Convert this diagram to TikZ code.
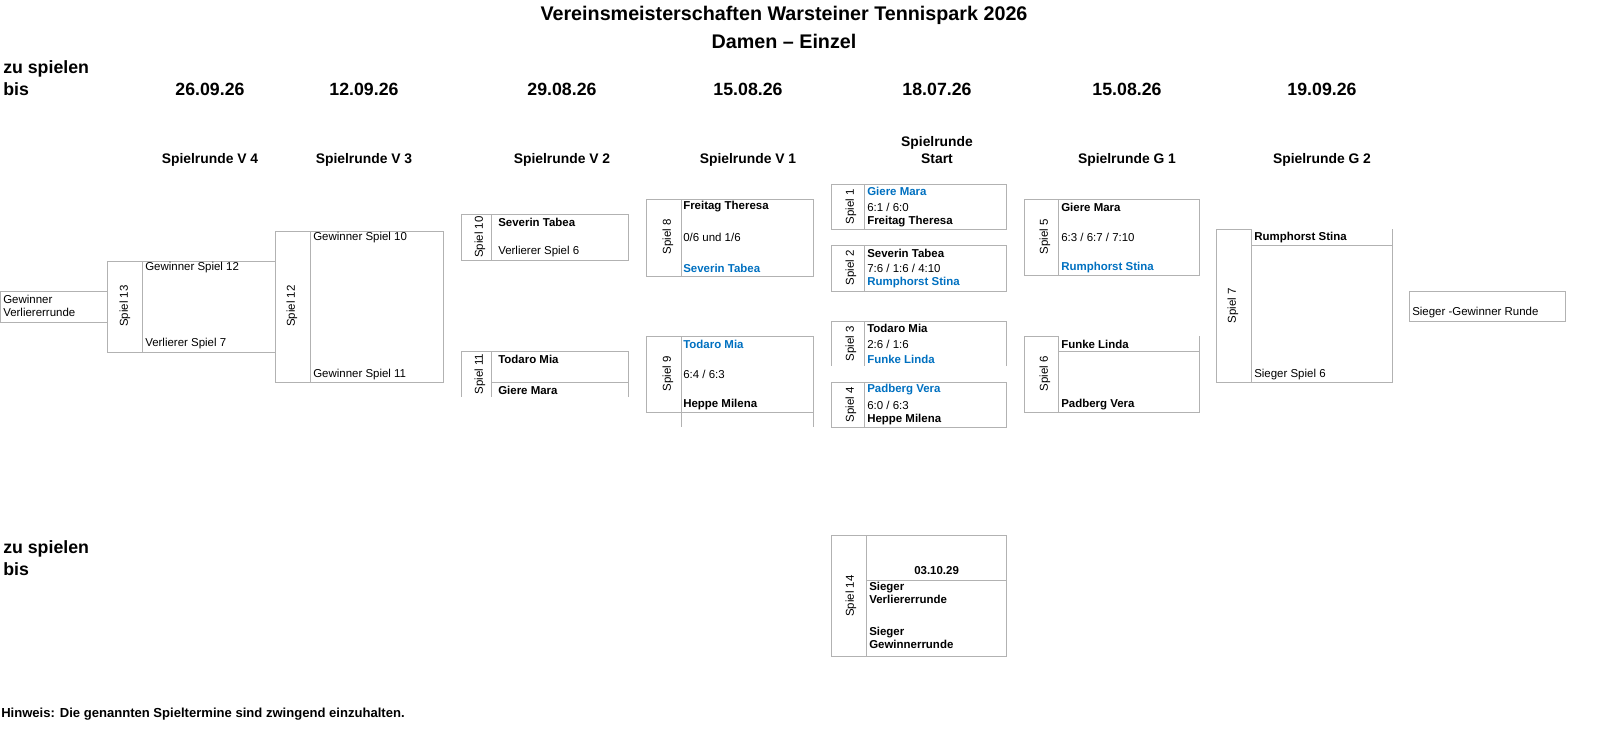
\documentclass[tikz,border=0pt]{standalone}
\usepackage{fontspec}
\setmainfont{Liberation Sans}
\usepackage{xcolor}
\definecolor{winblue}{RGB}{0,112,192}
\usetikzlibrary{positioning}
\tikzset{
  box/.style={draw=black!30, line width=0.6pt},
  txt/.style={anchor=west, inner sep=0pt, font=\fontsize{8.6}{10}\selectfont},
  btxt/.style={txt, font=\fontsize{8.6}{10}\selectfont\bfseries},
  wtxt/.style={btxt, text=winblue},
  game/.style={rotate=90, inner sep=0pt, font=\fontsize{8.6}{10}\selectfont},
  head/.style={font=\fontsize{10.4}{12.5}\selectfont\bfseries, align=center},
  date/.style={font=\fontsize{13.3}{16}\selectfont\bfseries}
}
\begin{document}
\begin{tikzpicture}[x=0.75pt, y=-0.75pt]
    \useasboundingbox (0,0) rectangle (1600,736);

    % Title
    \node[font=\fontsize{14.8}{17}\selectfont\bfseries] (title1) at (784,15) {Vereinsmeisterschaften Warsteiner Tennispark 2026};
    \node[font=\fontsize{14.8}{17}\selectfont\bfseries] (title2) at (784,41) {Damen -- Einzel};

    % Dates
    \node[date, anchor=west, align=left, inner sep=0pt] (zusp) at (3,78) {zu spielen\\bis};
    \node[date] (d4) at (210,89) {26.09.26};
    \node[date] (d3) at (364,89) {12.09.26};
    \node[date] (d2) at (562,89) {29.08.26};
    \node[date] (d1) at (748,89) {15.08.26};
    \node[date] (d0) at (937,89) {18.07.26};
    \node[date] (g1) at (1127,89) {15.08.26};
    \node[date] (g2) at (1322,89) {19.09.26};

    % Round headers
    \node[head] (r4) at (210,160) {Spielrunde V 4};
    \node[head] (r3) at (364,160) {Spielrunde V 3};
    \node[head] (r2) at (562,160) {Spielrunde V 2};
    \node[head] (r1) at (748,160) {Spielrunde V 1};
    \node[head] (r0) at (937,150) {Spielrunde\\Start};
    \node[head] (rg1) at (1127,160) {Spielrunde G 1};
    \node[head] (rg2) at (1322,160) {Spielrunde G 2};

    % Losers round
    \draw[box] (107,291) -- (0,291) -- (0,322) -- (107,322);
    \node[txt, align=left] (wvr) at (3,306) {Gewinner\\Verliererrunde};

    \draw[box] (107,261) rectangle (275,352) (142,261) -- (142,352);
    \node[game] (s13) at (125,306) {Spiel 13};
    \node[txt] (s13a) at (145,268) {Gewinner Spiel 12};
    \node[txt] (s13b) at (145,344) {Verlierer Spiel 7};

    \draw[box] (275,231) rectangle (443,382) (310,231) -- (310,382);
    \node[game] (s12) at (292,306) {Spiel 12};
    \node[txt] (s12a) at (313,238) {Gewinner Spiel 10};
    \node[txt] (s12b) at (313,375) {Gewinner Spiel 11};

    \draw[box] (461,214) rectangle (628,260) (491,214) -- (491,260);
    \node[game] (s10) at (480,237) {Spiel 10};
    \node[btxt] (s10a) at (498,222) {Severin Tabea};
    \node[txt] (s10b) at (498,252) {Verlierer Spiel 6};

    \draw[box] (628,397) -- (628,351) -- (461,351) -- (461,397) (491,351) -- (491,397) (491,382) -- (628,382);
    \node[game] (s11) at (480,374) {Spiel 11};
    \node[btxt] (s11a) at (498,359) {Todaro Mia};
    \node[btxt] (s11b) at (498,390) {Giere Mara};

    \draw[box] (646,199) rectangle (813,276) (681,199) -- (681,276);
    \node[game] (s8) at (668,237) {Spiel 8};
    \node[btxt] (s8a) at (683,207) {Freitag Theresa};
    \node[txt] (s8s) at (683,237) {0/6 und 1/6};
    \node[wtxt] (s8b) at (683,268) {Severin Tabea};

    \draw[box] (646,336) rectangle (813,412) (681,336) -- (681,427) (813,412) -- (813,427);
    \node[game] (s9) at (668,374) {Spiel 9};
    \node[wtxt] (s9a) at (683,344) {Todaro Mia};
    \node[txt] (s9s) at (683,374) {6:4 / 6:3};
    \node[btxt] (s9b) at (683,405) {Heppe Milena};

    % Start round
    \draw[box] (831,184) rectangle (1006,229) (864,184) -- (864,229);
    \node[game] (s1) at (851,207) {Spiel 1};
    \node[wtxt] (s1a) at (867,191) {Giere Mara};
    \node[txt] (s1s) at (867,207) {6:1 / 6:0};
    \node[btxt] (s1b) at (867,222) {Freitag Theresa};

    \draw[box] (831,245) rectangle (1006,291) (864,245) -- (864,291);
    \node[game] (s2) at (851,268) {Spiel 2};
    \node[btxt] (s2a) at (867,253) {Severin Tabea};
    \node[txt] (s2s) at (867,268) {7:6 / 1:6 / 4:10};
    \node[wtxt] (s2b) at (867,283) {Rumphorst Stina};

    \draw[box] (1006,366) -- (1006,321) -- (831,321) -- (831,366) (864,321) -- (864,366);
    \node[game] (s3) at (851,344) {Spiel 3};
    \node[btxt] (s3a) at (867,328) {Todaro Mia};
    \node[txt] (s3s) at (867,344) {2:6 / 1:6};
    \node[wtxt] (s3b) at (867,359) {Funke Linda};

    \draw[box] (831,382) rectangle (1006,427) (864,382) -- (864,427);
    \node[game] (s4) at (851,405) {Spiel 4};
    \node[wtxt] (s4a) at (867,390) {Padberg Vera};
    \node[txt] (s4s) at (867,405) {6:0 / 6:3};
    \node[btxt] (s4b) at (867,420) {Heppe Milena};

    % Winners round
    \draw[box] (1024,199) rectangle (1199,275) (1058,199) -- (1058,275);
    \node[game] (s5) at (1045,237) {Spiel 5};
    \node[btxt] (s5a) at (1061,207) {Giere Mara};
    \node[txt] (s5s) at (1061,237) {6:3 / 6:7 / 7:10};
    \node[wtxt] (s5b) at (1061,268) {Rumphorst Stina};

    \draw[box] (1199,336) -- (1199,412) -- (1024,412) -- (1024,336) -- (1058,336) -- (1058,412) (1058,351) -- (1199,351);
    \node[game] (s6) at (1045,374) {Spiel 6};
    \node[btxt] (s6a) at (1061,344) {Funke Linda};
    \node[btxt] (s6b) at (1061,405) {Padberg Vera};

    \draw[box] (1392,229) -- (1392,382) -- (1216,382) -- (1216,229) -- (1251,229) -- (1251,382) (1251,245) -- (1392,245);
    \node[game] (s7) at (1233,306) {Spiel 7};
    \node[btxt] (s7a) at (1254,238) {Rumphorst Stina};
    \node[txt] (s7b) at (1254,375) {Sieger Spiel 6};

    \draw[box] (1409,291) rectangle (1565,321);
    \node[txt] (sgr) at (1412,313) {Sieger -Gewinner Runde};

    % Final
    \node[date, anchor=west, align=left, inner sep=0pt] (zusp2) at (3,558) {zu spielen\\bis};
    \draw[box] (831,535) rectangle (1006,656) (866,535) -- (866,656) (866,580) -- (1006,580);
    \node[game] (s14) at (851,596) {Spiel 14};
    \node[btxt] (fdate) at (914,571) {03.10.29};
    \node[btxt, align=left, anchor=north west] (f1) at (869,582) {Sieger\\Verliererrunde};
    \node[btxt, align=left, anchor=north west] (f2) at (869,627) {Sieger\\Gewinnerrunde};

    % Note
    \node[txt, font=\fontsize{9.8}{11}\selectfont\bfseries] (note) at (1,714) {Hinweis: Die genannten Spieltermine sind zwingend einzuhalten.};
\end{tikzpicture}
\end{document}
